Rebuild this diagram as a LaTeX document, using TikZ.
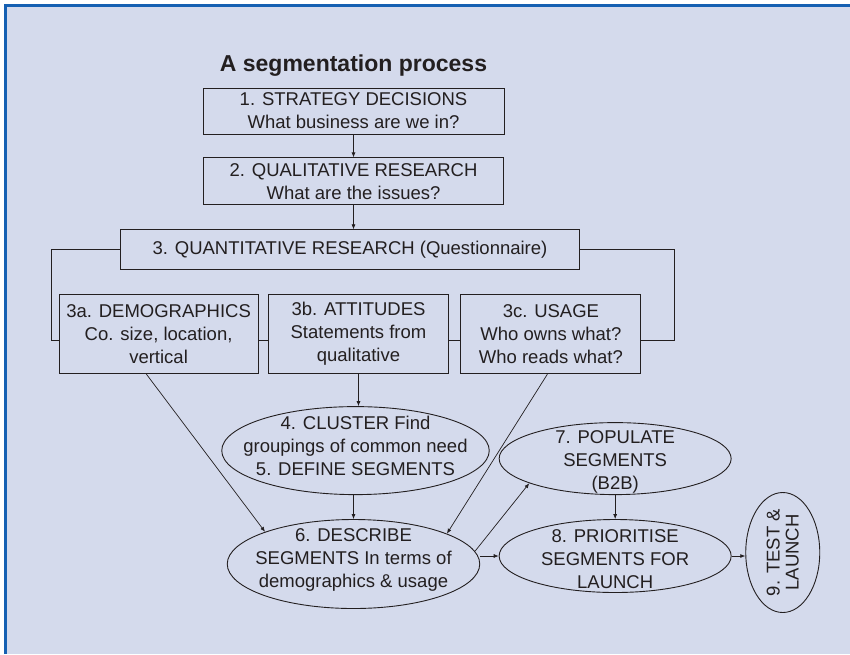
\documentclass[tikz,border=0pt]{standalone}
\usepackage{fontspec}
\setmainfont{Liberation Sans}
\usepackage{xcolor}
\usepackage{tikz}
\usetikzlibrary{shapes.geometric, arrows.meta, positioning}
\definecolor{panel}{RGB}{212, 218, 236}
\definecolor{frameblue}{RGB}{22, 96, 178}
\definecolor{ink}{RGB}{35, 31, 32}
\tikzset{
    box/.style = {rectangle, draw=ink, line width=0.9pt, align=center, inner sep=0pt, font=\fontsize{18.5}{23}\selectfont},
    stage/.style = {ellipse, draw=ink, line width=0.9pt, inner sep=0pt},
    inside/.style = {align=center, inner sep=0pt, text=ink, font=\fontsize{18.5}{23}\selectfont},
    arrow/.style = {line width=0.7pt, draw=ink, ->, >={Latex[length=5pt, width=4pt]}},
    line/.style = {line width=0.7pt, draw=ink, -}
}

\begin{document}
\begin{tikzpicture}[x=1pt, y=1pt, text=ink]
% Background
\useasboundingbox (0,0) rectangle (850,-654);
\fill[panel] (4,-4) rectangle (850,-654);
\draw[frameblue, line width=3pt] (5.5,-654) -- (5.5,-5.5) -- (850,-5.5);

% Nodes
\node (strategy) [box, minimum width=301pt, minimum height=46pt] at (353.5,-111) {1. STRATEGY DECISIONS\\What business are we in?};
\node (title) [above=11pt of strategy, inner sep=0pt, font=\bfseries\fontsize{23}{28}\selectfont] {A segmentation process};
\node (qualitative) [box, minimum width=300pt, minimum height=47pt, below=23pt of strategy] {2. QUALITATIVE RESEARCH\\What are the issues?};
\node (quantitative) [box, minimum width=459pt, minimum height=40pt, below=24pt of qualitative, xshift=-3.5pt] {3. QUANTITATIVE RESEARCH (Questionnaire)};

\node (attitudes) [box, minimum width=180pt, minimum height=79pt, below=24pt of quantitative, xshift=8.5pt] {3b. ATTITUDES\\Statements from\\qualitative};
\node (demographics) [box, minimum width=199pt, minimum height=79pt, left=9.5pt of attitudes] {3a. DEMOGRAPHICS\\Co. size, location,\\vertical};
\node (usage) [box, minimum width=180pt, minimum height=79pt, right=11.5pt of attitudes] {3c. USAGE\\Who owns what?\\Who reads what?};

\node (cluster) [stage, minimum width=267.5pt, minimum height=88pt, below=32pt of attitudes, xshift=-3pt,
    label={[inside, yshift=4.5pt]center:{4. CLUSTER Find\\groupings of common need\\5. DEFINE SEGMENTS}}] {};
\node (describe) [stage, minimum width=252.5pt, minimum height=89pt, below=24pt of cluster, xshift=-2pt,
    label={[inside, yshift=4pt]center:{6. DESCRIBE\\SEGMENTS In terms of\\demographics \& usage}}] {};
\node (prioritise) [stage, minimum width=232pt, minimum height=73pt, right=18.5pt of describe, yshift=8pt,
    label={[inside, yshift=-3.5pt]center:{8. PRIORITISE\\SEGMENTS FOR\\LAUNCH}}] {};
\node (populate) [stage, minimum width=232pt, minimum height=72pt, above=24pt of prioritise,
    label={[inside, yshift=-3pt]center:{7. POPULATE\\SEGMENTS\\(B2B)}}] {};
\node (launch) [stage, minimum width=74pt, minimum height=120pt, right=13.7pt of prioritise, yshift=3.5pt,
    label={[inside, rotate=90, font=\fontsize{18.5}{19}\selectfont]center:{9. TEST \&\\LAUNCH}}] {};

% Arrows
\draw [arrow] (strategy) -- (qualitative);
\draw [arrow] (qualitative.south) -- (qualitative.south |- quantitative.north);
\draw [line] (quantitative.west) -| ([xshift=-7pt, yshift=-6.5pt]demographics.west) -- ([yshift=-6.5pt]demographics.west);
\draw [line] (quantitative.east) -| ([xshift=32.5pt, yshift=-6.5pt]usage.east) -- ([yshift=-6.5pt]usage.east);
\draw [line] ([yshift=-6.5pt]demographics.east) -- ([yshift=-6.5pt]attitudes.west);
\draw [line] ([yshift=-6.5pt]attitudes.east) -- ([yshift=-6.5pt]usage.west);
\draw [arrow] (attitudes.south) -- (attitudes.south |- cluster.north);
\draw [arrow] (describe.north |- cluster.south) -- (describe.north);
\draw [arrow] (demographics.-107) -- (describe.160);
\draw [arrow] (usage.-95) -- (describe.18);
\draw [arrow] (describe.6) -- (populate.196);
\draw [arrow] (describe.east |- prioritise.west) -- (prioritise.west);
\draw [arrow] (populate) -- (prioritise);
\draw [arrow] (prioritise.east) -- (prioritise.east -| launch.west);

\end{tikzpicture}
\end{document}
